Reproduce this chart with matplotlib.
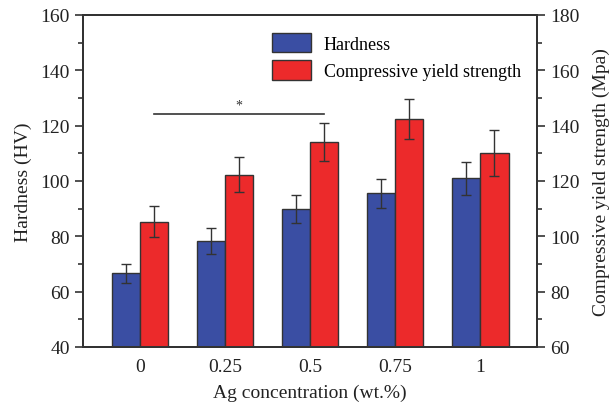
import matplotlib
matplotlib.use("Agg")
import matplotlib.pyplot as plt
import numpy as np
from matplotlib.ticker import MultipleLocator

plt.rcParams["font.family"] = ["Liberation Serif", "DejaVu Serif"]

concentrations = ["0", "0.25", "0.5", "0.75", "1"]
hardness = [66.6, 78.2, 89.8, 95.5, 101.0]
hardness_err = [3.5, 4.7, 5.0, 5.3, 6.0]
strength = [105.3, 122.3, 134.0, 142.4, 130.0]
strength_err = [5.7, 6.3, 6.9, 7.3, 8.3]
sig_level = 124.0

blue = "#3a4ea3"
red = "#ec2a2b"
edge = "#333333"
width = 0.333

fig = plt.figure(figsize=(6.14, 4.06), dpi=100)
ax = fig.add_axes([0.135, 0.143, 0.74, 0.818])
ax2 = ax.twinx()

x = np.arange(len(concentrations))
err_kw = dict(ecolor=edge, elinewidth=1.0, capsize=3.5, capthick=1.0)

ax.bar(x - width / 2, hardness, width, yerr=hardness_err, color=blue,
       edgecolor=edge, linewidth=1.0, error_kw=err_kw, label="Hardness")
ax2.bar(x + width / 2, strength, width, yerr=strength_err, color=red,
        edgecolor=edge, linewidth=1.0, error_kw=err_kw,
        label="Compressive yield strength")

# significance bracket between 0 and 0.5 wt.%
ax.plot([x[0] + width / 2, x[2] + width / 2], [sig_level, sig_level],
        color=edge, lw=1.2)
ax.text(x[1] + width / 2, sig_level + 1.0, "*", ha="center", va="bottom",
        fontsize=10, color=edge)

ax.set_xlim(-0.67, 4.67)
ax.set_ylim(40, 160)
ax2.set_ylim(60, 180)
ax.set_xticks(x)
ax.set_xticklabels(concentrations)
ax.yaxis.set_major_locator(MultipleLocator(20))
ax.yaxis.set_minor_locator(MultipleLocator(10))
ax2.yaxis.set_major_locator(MultipleLocator(20))
ax2.yaxis.set_minor_locator(MultipleLocator(10))

for a in (ax, ax2):
    for s in a.spines.values():
        s.set_linewidth(1.4)
        s.set_color(edge)
    a.tick_params(which="major", length=6, width=1.2, color=edge,
                  labelsize=14, labelcolor="#222222")
    a.tick_params(which="minor", length=3.5, width=1.2, color=edge)
ax.tick_params(axis="x", length=0, pad=8)

ax.set_xlabel("Ag concentration (wt.%)", fontsize=14, color="#222222",
              labelpad=6)
ax.set_ylabel("Hardness (HV)", fontsize=14, color="#222222", labelpad=6)
ax2.set_ylabel("Compressive yield strength (Mpa)", fontsize=14,
               color="#222222", labelpad=9)

h1, l1 = ax.get_legend_handles_labels()
h2, l2 = ax2.get_legend_handles_labels()
ax2.legend(h1 + h2, l1 + l2, loc="upper right", bbox_to_anchor=(1.0, 0.995),
           frameon=False, fontsize=13, handlelength=2.2, handleheight=1.3,
           handletextpad=0.7, labelspacing=0.4)

fig.savefig("out.png", dpi=100)
